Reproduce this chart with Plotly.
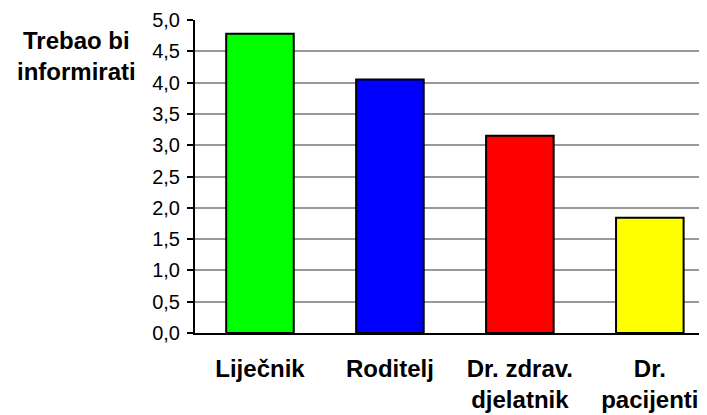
import plotly.graph_objects as go

categories = ["Liječnik", "Roditelj", "Dr. zdrav.<br>djelatnik", "Dr.<br>pacijenti"]
values = [4.78, 4.05, 3.15, 1.84]
bar_colors = ["#00FF00", "#0000FF", "#FF0000", "#FFFF00"]
y_tickvals = [0, 0.5, 1.0, 1.5, 2.0, 2.5, 3.0, 3.5, 4.0, 4.5, 5.0]
y_ticktext = ["0,0", "0,5", "1,0", "1,5", "2,0", "2,5", "3,0", "3,5", "4,0", "4,5", "5,0"]
title_text = "Trebao bi<br>informirati"

FONT = "Liberation Sans, Arial, sans-serif"

# The page body has an 8px margin, so the figure is offset by 8px.
fig = go.Figure(
    go.Bar(
        x=categories,
        y=values,
        marker=dict(color=bar_colors, line=dict(color="black", width=2)),
        width=0.52,
    )
)

fig.update_layout(
    width=699,
    height=407,
    margin=dict(l=187, r=0, t=12, b=82),
    paper_bgcolor="white",
    plot_bgcolor="white",
    showlegend=False,
    font=dict(family=FONT, color="black"),
    xaxis=dict(
        type="category",
        range=[-0.5, 3.44],
        showline=True,
        linecolor="black",
        linewidth=2,
        ticks="",
        showgrid=False,
        automargin=False,
        tickfont=dict(family=FONT, size=24, color="black", weight="bold"),
        ticklabelstandoff=13,
    ),
    yaxis=dict(
        range=[0, 5],
        tickvals=y_tickvals,
        ticktext=y_ticktext,
        showline=True,
        linecolor="black",
        linewidth=2,
        ticks="outside",
        ticklen=6,
        tickwidth=2,
        tickcolor="black",
        showgrid=True,
        gridcolor="#999999",
        gridwidth=2,
        zeroline=False,
        automargin=False,
        tickfont=dict(family=FONT, size=20, color="black"),
        ticklabelstandoff=3,
    ),
    annotations=[
        dict(
            text="<b>" + title_text + "</b>",
            xref="paper",
            yref="paper",
            x=-0.232,
            y=0.886,
            xanchor="center",
            yanchor="middle",
            showarrow=False,
            align="center",
            font=dict(family=FONT, size=24, color="black"),
        )
    ],
)

fig.write_html("out.html")
